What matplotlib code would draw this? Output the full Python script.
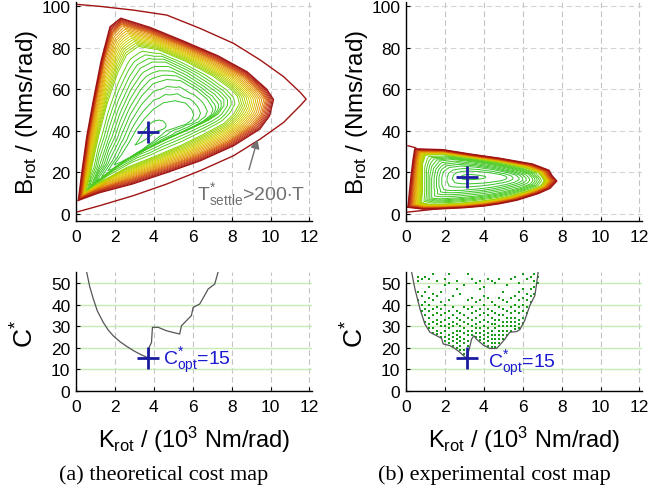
import numpy as np
import matplotlib
matplotlib.use('Agg')
import matplotlib.pyplot as plt
import matplotlib.tri as mtri
from matplotlib.colors import LinearSegmentedColormap, Normalize

plt.rcParams['font.family'] = 'Liberation Sans'
plt.rcParams['mathtext.fontset'] = 'custom'
plt.rcParams['mathtext.rm'] = 'Liberation Sans'
plt.rcParams['mathtext.it'] = 'Liberation Sans:italic'

# ---------------- (a) theoretical cost map ----------------
# nested iso-cost rings, outermost first (20 points each,
# starting at the lower left corner and going clockwise)
th_ring_cost = [100, 85, 60, 45, 30, 20]
th_ring_k = [
    [0.12, 0.3, 0.55, 0.9, 1.3, 1.75, 2.3, 3.8, 5.5, 7.3, 8.8, 9.8, 10.15, 9.95, 9.45, 8.1, 6.4, 4.7, 2.9, 1.2],
    [0.3, 0.45, 0.7, 1.05, 1.45, 1.9, 2.35, 3.8, 5.5, 7.2, 8.6, 9.45, 9.7, 9.5, 9.0, 7.8, 6.2, 4.5, 2.8, 1.2],
    [0.5, 0.8, 1.15, 1.6, 2.15, 2.6, 3.2, 4.2, 5.6, 7.0, 7.9, 8.3, 8.4, 8.1, 7.6, 6.6, 5.4, 4.0, 2.6, 1.3],
    [0.75, 1.2, 1.7, 2.2, 2.8, 3.3, 3.9, 4.6, 5.7, 6.7, 7.3, 7.6, 7.6, 7.3, 6.8, 5.9, 4.8, 3.6, 2.4, 1.4],
    [1.1, 1.7, 2.3, 2.8, 3.4, 4.0, 4.7, 5.4, 6.2, 6.7, 6.9, 7.0, 6.9, 6.5, 5.9, 5.2, 4.4, 3.5, 2.6, 1.8],
    [2.0, 2.4, 2.8, 3.1, 3.5, 4.0, 4.5, 5.1, 5.6, 5.9, 6.0, 5.9, 5.6, 5.1, 4.6, 4.3, 3.9, 3.4, 2.9, 2.4],
]
th_ring_b = [
    [6.5, 20, 37, 55, 74, 90, 94.1, 89.7, 83.2, 76, 68.3, 60, 55, 47.2, 40.8, 32.8, 25.6, 20, 14.4, 10.2],
    [8.3, 20, 37, 55, 73, 86.5, 90.8, 86.8, 80.5, 73.3, 66, 58.5, 55, 48, 42.5, 35, 28.4, 22.8, 17.2, 12.4],
    [10.5, 22, 37, 53, 68, 76.5, 80.5, 79, 73.5, 66.5, 60.5, 56.5, 53, 48, 43.5, 38.5, 33, 27.5, 22.3, 15.5],
    [13, 23, 37, 51, 63, 70, 73, 73, 68, 62, 58, 55, 52, 48, 45, 41, 36.5, 31, 25, 18],
    [16, 24.5, 36, 47, 56, 62, 64, 63.5, 59, 55, 52, 50, 47.5, 44.5, 41.5, 38.5, 35, 30.5, 26, 20.5],
    [24, 29, 35, 40, 45, 50, 53, 54, 53, 50, 47.5, 45, 43, 41.5, 40, 37.5, 34.5, 31, 28, 25.5],
]
th_opt = (3.72, 39.2)
th_opt_cost = 15
# stability limit T*settle > 200 T
th_lim_k = [0, 1.23, 2.95, 4.67, 6.38, 8.1, 9.47, 10.67, 11.52, 11.83, 11.52, 10.67, 9.47, 8.1,
            6.38, 4.67, 2.95, 1.23, 0]
th_lim_b = [0.8, 4, 8.8, 14.4, 20.8, 28, 36, 44, 52, 55.2, 58.5, 66, 74, 82,
            89.2, 95.6, 98, 99.8, 100.8]
# minimum cost over B for every K
th_cost_k = [0.5, 0.55, 0.7, 0.89, 1.1, 1.4, 1.65, 1.91, 2.25, 2.6, 2.95, 3.28, 3.5, 3.71, 3.76,
             3.88, 3.93, 4.22, 4.65, 4.99, 5.33, 5.42, 5.68, 5.93, 6.02, 6.36, 6.7, 6.79, 7.13,
             7.3, 7.35]
th_cost_c = [58, 55, 48.5, 42.6, 37, 31.8, 28.3, 25.6, 22.9, 20.7, 18.7, 17.1, 16.2, 15.3, 20.2,
             22.5, 29.5, 29.5, 27.9, 27.1, 26.4, 30.2, 32.6, 34.9, 38.7, 40.3, 45.7, 47.2, 49.5,
             55, 58]
th_copt = (3.72, 15.1)

# ---------------- (b) experimental cost map ----------------
ex_ring_cost = [100, 88, 60, 42, 28, 19]
ex_ring_k = [
    [0.1, 0.18, 0.27, 0.36, 0.45, 1.9, 3.3, 4.8, 6.5, 7.35, 7.5, 7.75, 7.4, 6.8, 5.7, 4.8, 4.0, 3.0, 1.9, 0.9],
    [0.3, 0.35, 0.42, 0.5, 0.62, 1.9, 3.3, 4.8, 6.4, 7.15, 7.3, 7.5, 7.2, 6.6, 5.6, 4.7, 3.9, 3.0, 1.9, 0.9],
    [0.8, 0.85, 0.85, 0.85, 1.0, 2.0, 3.3, 4.8, 6.2, 6.8, 7.0, 7.1, 6.9, 6.3, 5.3, 4.5, 3.7, 2.8, 1.9, 1.2],
    [1.3, 1.3, 1.3, 1.4, 1.7, 2.4, 3.4, 4.6, 5.8, 6.3, 6.5, 6.55, 6.4, 5.9, 5.0, 4.2, 3.4, 2.6, 2.0, 1.6],
    [1.9, 1.8, 1.8, 1.9, 2.2, 2.8, 3.6, 4.5, 5.3, 5.7, 5.85, 5.85, 5.6, 5.1, 4.5, 3.9, 3.3, 2.8, 2.4, 2.1],
    [2.6, 2.5, 2.55, 2.7, 3.0, 3.4, 3.9, 4.4, 4.8, 5.0, 5.05, 5.0, 4.8, 4.4, 4.0, 3.6, 3.3, 3.0, 2.8, 2.65],
]
ex_ring_b = [
    [3.2, 11, 19, 26, 31.3, 30.9, 28.8, 26.8, 24, 21, 18.5, 15.8, 12.3, 9.8, 6.6, 4.9, 3.8, 3.0, 2.5, 2.3],
    [4.0, 11, 19, 26, 30.4, 30.2, 28.1, 26.1, 23.3, 20.6, 18.3, 15.8, 12.6, 10.2, 7.2, 5.5, 4.4, 3.6, 3.1, 3.0],
    [5.5, 11, 18, 24, 28.3, 28.6, 27.0, 24.9, 21.9, 19.8, 17.5, 15.8, 13.4, 11.2, 8.5, 7.0, 6.0, 5.2, 4.7, 4.6],
    [7.5, 11.5, 17, 22, 25.5, 26.3, 25.2, 23.4, 20.8, 19.2, 17.5, 16, 14.3, 12.6, 10.5, 9.2, 8.3, 7.6, 7.2, 7.2],
    [11.5, 14, 17.5, 20.5, 22.5, 23.2, 22.6, 21.4, 19.8, 18.6, 17.4, 16.3, 15.1, 13.9, 12.8, 12.0, 11.5, 11.1, 11.0, 11.1],
    [16.0, 17.2, 18.4, 19.4, 20.0, 20.1, 19.8, 19.3, 18.7, 18.1, 17.5, 16.9, 16.3, 15.8, 15.4, 15.2, 15.1, 15.2, 15.4, 15.7],
]
ex_opt = (3.15, 17.8)
ex_opt_cost = 15
ex_side_top_k = [0.1, 0.5]
ex_side_top_b = [32.8, 31.8]
ex_side_bot_k = [0.0, 1.9]
ex_side_bot_b = [0.8, 2.7]
ex_cost_k = [0.25, 0.29, 0.46, 0.72, 0.97, 1.23, 1.57, 1.83, 1.91, 2.26, 2.51, 2.77, 3.11, 3.25,
             3.37, 3.49, 3.62, 3.97, 4.3, 4.65, 4.82, 5.08, 5.33, 5.68, 5.85, 6.1, 6.36, 6.62,
             6.7, 6.79, 6.83]
ex_cost_c = [58, 55, 47.2, 38, 31, 27.2, 25.6, 24.4, 21.8, 21, 19.7, 17.9, 15.1, 19.4,
             24, 25.6, 24, 21.3, 19.7, 19.7, 21.3, 24, 27.2, 27.5, 28.4, 32.6, 39.5, 44.1,
             48.8, 55, 58]
ex_copt = (3.11, 15.1)
# sampled costs of the experimental map, one column per K
dot_k = [0.6, 0.8, 1.0, 1.2, 1.4, 1.6, 1.8, 2.0, 2.2, 2.4, 2.6, 2.8, 3.0, 3.2, 3.4, 3.6,
         3.8, 4.0, 4.2, 4.4, 4.6, 4.8, 5.0, 5.2, 5.4, 5.6, 5.8, 6.0, 6.2, 6.4, 6.6, 6.8]
dot_c = [[42, 46, 51, 53],
         [37, 40, 44, 52],
         [32, 35, 38, 41, 46, 53],
         [29, 31, 34, 37, 40, 43, 48, 52],
         [27, 29, 32, 35, 38, 42, 45, 54],
         [26.5, 28, 31, 33, 36, 39, 44, 51],
         [25, 27, 30, 32, 35, 38, 41, 46],
         [23, 25, 28, 30, 33, 36, 40, 49, 52],
         [22, 24, 26, 29, 31, 34, 37, 42, 50, 54],
         [21, 23, 25, 27, 30, 32, 35, 39, 44],
         [20, 22, 24, 26, 28, 31, 34, 37, 47, 51],
         [19, 21, 23, 25, 28, 30, 33, 36, 45],
         [17, 19, 22, 24, 27, 29, 32, 35, 39, 49],
         [18, 21, 23, 26, 28, 31, 34, 38, 42, 54],
         [26, 28, 30, 33, 36, 39, 43, 52],
         [25, 27, 29, 31, 34, 37, 41, 50],
         [23.5, 25, 27, 29, 32, 35, 38, 42, 47, 51],
         [22, 24, 26, 28, 30, 33, 36, 40, 44, 48],
         [21, 23, 25, 27, 29, 32, 35, 38, 43, 52],
         [20.5, 22, 24, 26, 28, 31, 34, 37, 41, 51],
         [20.5, 22, 24, 26, 29, 31, 33, 36, 40, 50],
         [22, 24, 26, 28, 30, 33, 35, 39, 43, 52],
         [24, 26, 28, 30, 32, 35, 38, 42, 46],
         [26, 28, 30, 32, 34, 37, 41, 49],
         [28, 30, 32, 34, 36, 39, 43, 52],
         [28.5, 30, 32, 34, 37, 40, 44, 53],
         [29, 31, 33, 36, 39, 42, 46, 50],
         [31.5, 34, 37, 40, 43, 47, 54],
         [36, 39, 42, 45, 52],
         [41, 44, 47, 53],
         [45, 48, 51, 54],
         [50, 53]]

W, H = 672, 489
fig = plt.figure(figsize=(W / 100, H / 100), dpi=100)

cmap = LinearSegmentedColormap.from_list('gyr', [(0, '#2ec02e'), (0.45, '#4fcc1c'), (0.56, '#a0d400'),
                                                 (0.68, '#dcce00'), (0.79, '#e39600'),
                                                 (0.9, '#d04412'), (1.0, '#9e0a0a')])
norm = Normalize(15, 100)
levels = list(np.arange(17, 58, 3.5)) + list(np.arange(60, 100, 2))
red = '#a01414'
blue = '#1c1ca0'


def px_axes(left, top, right, bottom):
    return fig.add_axes([left / W, 1 - bottom / H, (right - left) / W, (bottom - top) / H])


def style(ax, ylim, yticks, lower):
    ax.set_xlim(0, 12.13)
    ax.set_ylim(*ylim)
    ax.set_xticks(range(0, 13, 2))
    ax.set_yticks(yticks)
    for s in ['top', 'right']:
        ax.spines[s].set_visible(False)
    for s in ['left', 'bottom']:
        ax.spines[s].set_linewidth(1.0)
    ax.tick_params(direction='in', length=3, width=0.8, labelsize=12.5)
    ax.tick_params(axis='x', pad=6)
    ax.tick_params(axis='y', pad=4)
    ax.set_axisbelow(True)
    ax.xaxis.grid(True, color='#c4c4c4', ls=(0, (5, 3)), lw=0.8)
    if lower:
        ax.yaxis.grid(True, color='#c6ecb4', ls='-', lw=1.0)
    else:
        ax.yaxis.grid(True, color='#d4d4d4', ls=(0, (5, 3)), lw=0.8)


def cost_map(ax, ring_k, ring_b, ring_cost, opt, opt_cost):
    n = len(ring_k[0])
    k = np.concatenate(ring_k + [[opt[0]]])
    b = np.concatenate(ring_b + [[opt[1]]])
    c = np.concatenate([np.full(n, cc, dtype=float) for cc in ring_cost] + [[opt_cost]])
    tris = []
    for r in range(len(ring_k) - 1):
        for i in range(n):
            j = (i + 1) % n
            tris.append([r * n + i, r * n + j, (r + 1) * n + i])
            tris.append([r * n + j, (r + 1) * n + j, (r + 1) * n + i])
    last = (len(ring_k) - 1) * n
    for i in range(n):
        tris.append([last + i, last + (i + 1) % n, len(ring_k) * n])
    tri = mtri.Triangulation(k, b, tris)
    ax.tricontour(tri, c, levels=levels, cmap=cmap, norm=norm, linewidths=0.7)
    ax.plot(ring_k[0] + [ring_k[0][0]], ring_b[0] + [ring_b[0][0]], color=red, lw=1.0)


# top left
ax1 = px_axes(76, 3, 312, 222)
style(ax1, (-3.4, 101.9), range(0, 101, 20), False)
cost_map(ax1, th_ring_k, th_ring_b, th_ring_cost, th_opt, th_opt_cost)
ax1.plot(th_lim_k, th_lim_b, color=red, lw=1.0)
ax1.plot(*th_opt, marker='+', ms=16.5, mew=2.0, color=blue)
ax1.annotate('', xy=(9.37, 37), xytext=(8.85, 20),
             arrowprops=dict(arrowstyle='-|>', color='#707070', lw=1.0, mutation_scale=13))
ax1.text(6.2, 7.2, r'$\mathrm{T^{*}_{settle}}$>200$\cdot$T', color='#707070', fontsize=14,
         ha='left', va='baseline')

# top right
ax2 = px_axes(406, 3, 642, 222)
style(ax2, (-3.4, 101.9), range(0, 101, 20), False)
cost_map(ax2, ex_ring_k, ex_ring_b, ex_ring_cost, ex_opt, ex_opt_cost)
ax2.plot(ex_side_top_k, ex_side_top_b, color=red, lw=1.0)
ax2.plot(ex_side_bot_k, ex_side_bot_b, color=red, lw=1.0)
ax2.plot(*ex_opt, marker='+', ms=16.5, mew=2.0, color=blue)

# bottom left
ax3 = px_axes(76, 273, 312, 392)
style(ax3, (0, 55.1), range(0, 51, 10), True)
ax3.plot(th_cost_k, th_cost_c, color='#555555', lw=0.9)
ax3.plot(*th_copt, marker='+', ms=16.5, mew=2.0, color=blue)
ax3.text(4.48, 12.5, r'$\mathrm{C^{*}_{opt}}$=15', color='#1a1ad0', fontsize=14,
         ha='left', va='baseline')

# bottom right
ax4 = px_axes(406, 273, 642, 392)
style(ax4, (0, 55.1), range(0, 51, 10), True)
for kk, cc in zip(dot_k, dot_c):
    ax4.plot([kk] * len(cc), cc, ls='none', marker='s', ms=1.7, mew=0, color='#1a9a1a')
ax4.plot(ex_cost_k, ex_cost_c, color='#555555', lw=0.9)
ax4.plot(*ex_copt, marker='+', ms=16.5, mew=2.0, color=blue)
ax4.text(4.2, 11.0, r'$\mathrm{C^{*}_{opt}}$=15', color='#1a1ad0', fontsize=14,
         ha='left', va='baseline')

# axis labels and captions
for dx, cap in [(0, '(a) theoretical cost map'), (330, '(b) experimental cost map')]:
    fig.text((27 + dx) / W, 1 - 112 / H, r'$\mathrm{B_{rot}}$ / (Nms/rad)', rotation=90,
             ha='center', va='center', fontsize=17.5)
    fig.text((25 + dx) / W, 1 - 334 / H, r'$\mathrm{C^{*}}$', rotation=90,
             ha='center', va='center', fontsize=19)
    fig.text((194 + dx) / W, 1 - 440 / H, r'$\mathrm{K_{rot}}$ / (10$^{\mathrm{3}}$ Nm/rad)',
             ha='center', va='center', fontsize=17)
    fig.text((164 + dx) / W, 1 - 475.5 / H, cap, ha='center', va='center', fontsize=16,
             family='Liberation Serif')

fig.savefig('out.png', dpi=100)
